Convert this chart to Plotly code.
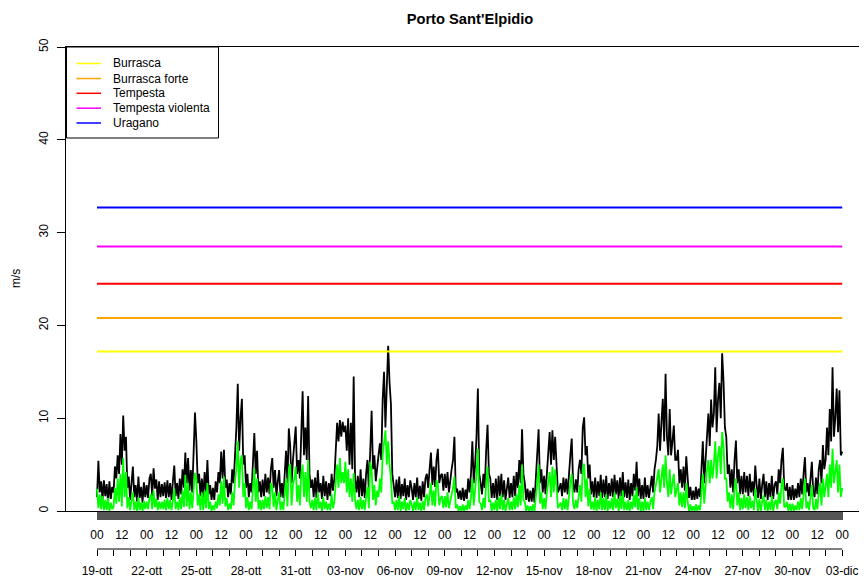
import plotly.graph_objects as go

# Wind gust (black) and mean wind (green), m/s, every 2 hours from 19-ott 00 to 03-dic 00
gust = [
    1.5, 5.4, 2.0, 3.2, 1.2, 3.3, 1.6, 2.9, 1.0, 3.2, 1.3, 2.6,
    2.0, 4.8, 3.5, 6.0, 4.0, 8.3, 5.0, 10.3, 6.5, 8.0, 2.5, 3.7,
    1.2, 3.0, 4.8, 1.5, 2.8, 1.0, 3.7, 1.4, 2.6, 0.9, 3.1, 1.5,
    2.8, 1.4, 3.5, 4.0, 1.6, 4.6, 2.4, 3.4, 1.2, 3.2, 1.5, 2.9,
    1.6, 3.1, 1.4, 3.3, 1.5, 3.0, 1.2, 3.2, 4.9, 1.6, 3.0, 1.3,
    3.5, 1.8, 4.5, 2.5, 6.3, 3.0, 5.7, 2.2, 4.4, 2.0, 6.0, 10.6,
    7.5, 3.0, 4.0, 1.6, 3.5, 1.5, 4.2, 2.0, 5.5, 1.8, 2.8, 1.2,
    2.5, 1.2, 3.2, 2.0, 4.2, 3.0, 6.4, 3.5, 6.6, 2.5, 3.4, 1.5,
    3.0, 1.8, 4.5, 3.0, 6.0, 9.0, 13.7, 6.5, 10.0, 12.1, 5.0, 6.0,
    2.5, 4.0, 1.5, 3.0, 2.0, 5.5, 8.4, 4.0, 6.5, 2.0, 3.2, 1.5,
    3.4, 1.6, 4.0, 2.0, 3.6, 1.8, 4.5, 5.7, 2.5, 4.4, 1.6, 3.2,
    4.4, 1.5, 3.0, 1.4, 4.5, 6.5, 3.0, 8.9, 7.0, 3.0, 5.5, 7.0,
    9.1, 4.0, 5.5, 3.5, 8.0, 12.9, 6.0, 9.0, 5.5, 12.4, 4.0, 2.5,
    3.4, 1.5, 3.6, 1.4, 4.4, 2.0, 3.0, 1.3, 3.8, 1.6, 3.2, 1.2,
    3.0, 1.6, 4.0, 2.2, 3.5, 6.0, 9.5, 7.5, 9.8, 8.0, 9.6, 8.5,
    9.2, 6.5, 10.0, 5.0, 9.5, 4.5, 14.5, 3.5, 2.0, 3.8, 1.5, 4.5,
    1.6, 3.5, 1.4, 4.0, 5.5, 2.2, 7.6, 10.8, 4.5, 6.0, 3.2, 5.0,
    6.0, 7.3, 5.5, 12.0, 15.0, 9.0, 14.8, 17.8, 13.8, 11.5, 4.0, 3.0,
    1.5, 3.4, 1.4, 3.7, 1.3, 2.9, 1.6, 3.5, 1.2, 2.8, 1.5, 3.3,
    2.5, 1.2, 3.0, 1.5, 3.6, 1.3, 2.7, 1.1, 3.2, 1.5, 3.5, 4.0,
    2.5, 4.5, 6.3, 2.8, 4.8, 2.6, 5.5, 6.7, 3.0, 3.8, 4.0, 2.2,
    4.0, 2.5, 4.2, 2.0, 3.5, 4.5, 5.5, 8.0, 2.0, 2.4, 1.3, 2.2,
    1.2, 2.5, 1.1, 2.3, 1.3, 3.5, 2.0, 4.0, 7.5, 3.0, 5.0, 8.0,
    13.2, 4.0, 3.0, 1.8, 4.0, 2.5, 6.5, 9.3, 4.0, 3.5, 1.4, 3.0,
    1.4, 3.5, 1.2, 3.8, 1.6, 4.0, 1.5, 3.3, 1.2, 2.8, 3.6, 1.4,
    3.0, 1.5, 3.8, 1.6, 4.2, 2.5, 5.5, 3.0, 8.8, 4.0, 3.0, 1.2,
    2.4, 1.0, 2.2, 1.0, 2.5, 0.9, 3.5, 6.0, 8.8, 3.0, 4.5, 2.0,
    3.8, 1.8, 4.5, 6.0, 8.5, 5.0, 8.7, 5.5, 8.0, 5.0, 2.0, 2.4,
    3.0, 1.6, 3.6, 2.0, 3.5, 1.8, 4.5, 6.0, 7.8, 3.0, 2.0, 3.4,
    2.0, 4.5, 5.5, 4.0, 9.0, 10.1, 6.0, 7.0, 3.5, 5.0, 1.8, 3.2,
    1.5, 3.6, 1.4, 3.2, 1.6, 3.9, 1.4, 3.4, 1.5, 3.8, 1.3, 3.0,
    1.6, 3.5, 1.5, 3.9, 1.8, 3.3, 1.3, 3.6, 1.6, 4.2, 1.5, 3.1,
    1.4, 3.4, 1.2, 3.0, 1.6, 4.0, 2.2, 5.3, 1.6, 3.5, 1.3, 2.8,
    1.3, 3.6, 1.5, 2.8, 1.4, 3.0, 3.8, 2.0, 4.5, 5.5, 7.0, 10.5,
    6.5, 9.5, 12.1, 7.5, 14.8, 8.0, 6.0, 11.0, 6.0, 7.5, 9.2, 5.5,
    5.5, 6.6, 3.0, 4.5, 2.5, 4.8, 2.2, 5.9, 3.0, 1.4, 2.6, 1.2,
    2.2, 1.2, 2.6, 1.3, 2.4, 1.5, 4.5, 7.5, 3.0, 6.0, 8.5, 10.5,
    7.0, 12.0, 9.0, 10.5, 15.5, 8.5, 12.0, 13.8, 10.0, 17.0, 14.0, 9.0,
    8.0, 4.0, 5.0, 2.5, 4.5, 2.0, 5.5, 7.6, 3.0, 4.5, 1.8, 3.8,
    1.8, 4.2, 2.0, 3.8, 1.6, 4.0, 2.0, 3.2, 1.6, 4.9, 2.8, 1.4,
    3.5, 1.3, 2.8, 4.0, 1.5, 3.2, 1.2, 3.0, 1.5, 3.8, 1.3, 2.8,
    3.2, 1.8, 4.5, 3.0, 5.5, 6.8, 2.5, 2.2, 3.0, 1.2, 2.6, 1.2,
    2.8, 1.2, 2.4, 1.4, 3.0, 1.5, 3.5, 1.8, 4.0, 5.8, 2.0, 3.0,
    1.6, 4.0, 5.3, 2.0, 1.5, 3.6, 1.8, 4.5, 5.5, 3.0, 7.1, 4.5,
    5.5, 9.0, 6.0, 11.0, 7.5, 15.5, 8.0, 10.0, 13.2, 8.5, 13.0, 6.0,
    6.4,
]

wind = [
    2.4, 0.3, 1.8, 0.2, 1.6, 0.1, 1.2, 0.1, 1.4, 0.0, 0.9, 0.2,
    0.4, 2.5, 0.8, 3.5, 1.0, 4.0, 0.5, 5.7, 1.5, 4.2, 0.3, 1.5,
    0.1, 1.2, 2.0, 0.1, 1.0, 0.0, 1.5, 0.1, 0.9, 0.0, 1.1, 0.2,
    1.0, 0.2, 1.4, 1.8, 0.2, 2.2, 0.4, 1.3, 0.1, 1.0, 0.2, 1.0,
    0.2, 1.2, 0.1, 1.4, 0.2, 1.2, 0.1, 1.1, 2.4, 0.2, 1.0, 0.1,
    1.5, 0.2, 2.2, 0.4, 3.9, 0.5, 3.0, 0.2, 2.0, 0.3, 2.8, 4.1,
    3.5, 0.6, 1.8, 0.1, 2.0, 0.1, 2.2, 0.3, 3.0, 0.2, 1.0, 0.0,
    0.6, 0.1, 1.0, 0.3, 1.8, 0.6, 3.2, 0.8, 3.7, 0.5, 1.4, 0.1,
    0.8, 0.2, 2.0, 0.6, 3.2, 4.5, 7.5, 2.5, 5.5, 6.0, 1.5, 3.0,
    0.3, 1.5, 0.1, 1.0, 0.2, 2.8, 4.6, 1.0, 3.5, 0.2, 1.2, 0.1,
    1.2, 0.2, 1.6, 0.3, 1.5, 0.2, 3.0, 2.6, 0.4, 2.0, 0.1, 1.2,
    2.0, 0.1, 1.0, 0.1, 2.0, 3.5, 0.5, 4.5, 5.1, 0.6, 2.8, 3.5,
    4.8, 1.0, 2.8, 0.6, 4.0, 5.0, 1.5, 4.2, 1.0, 5.5, 1.0, 0.3,
    1.2, 0.1, 1.4, 0.1, 2.0, 0.3, 1.0, 0.0, 1.5, 0.2, 1.0, 0.1,
    0.8, 0.1, 1.8, 0.3, 1.0, 3.0, 5.0, 2.5, 5.7, 3.0, 4.2, 3.0,
    5.3, 2.0, 4.5, 1.5, 3.5, 1.0, 4.1, 1.2, 0.2, 1.2, 0.1, 1.5,
    0.2, 1.2, 0.1, 1.5, 2.6, 0.3, 5.3, 4.5, 1.2, 2.8, 0.6, 2.2,
    1.5, 3.5, 2.0, 6.0, 7.5, 8.7, 5.0, 7.5, 5.0, 3.5, 0.8, 1.0,
    0.1, 1.2, 0.1, 1.6, 0.0, 1.0, 0.2, 1.4, 0.0, 0.9, 0.1, 1.2,
    0.7, 0.0, 1.0, 0.1, 1.5, 0.1, 0.9, 0.0, 1.1, 0.1, 1.4, 1.8,
    0.5, 2.0, 3.0, 0.6, 2.2, 0.5, 3.3, 2.8, 0.6, 1.4, 1.6, 0.3,
    1.6, 0.4, 2.0, 0.3, 1.0, 1.5, 2.5, 3.7, 0.3, 0.7, 0.0, 0.5,
    0.0, 0.7, 0.0, 0.6, 0.1, 1.2, 0.2, 1.5, 3.5, 0.6, 2.2, 4.0,
    6.7, 1.0, 0.8, 0.1, 1.4, 0.3, 3.0, 4.8, 1.0, 1.2, 0.0, 0.9,
    0.1, 1.2, 0.0, 1.5, 0.2, 1.8, 0.1, 1.2, 0.0, 0.9, 1.4, 0.1,
    1.0, 0.1, 1.5, 0.2, 1.8, 0.4, 2.8, 0.6, 5.0, 1.2, 1.0, 0.0,
    0.6, 0.0, 0.5, 0.0, 0.7, 0.0, 1.2, 3.0, 5.0, 0.8, 2.0, 0.2,
    1.4, 0.2, 2.0, 3.0, 4.2, 1.5, 4.8, 2.0, 4.5, 2.5, 0.3, 0.6,
    0.9, 0.1, 1.4, 0.2, 1.3, 0.1, 2.0, 3.0, 4.0, 0.8, 0.2, 1.2,
    0.3, 2.0, 2.8, 1.0, 4.5, 5.1, 1.5, 3.5, 0.5, 2.4, 0.2, 1.0,
    0.1, 1.5, 0.0, 1.2, 0.2, 2.0, 0.1, 1.4, 0.1, 1.8, 0.0, 1.1,
    0.2, 1.4, 0.1, 2.0, 0.3, 1.3, 0.0, 1.6, 0.2, 2.2, 0.1, 1.0,
    0.1, 1.2, 0.0, 1.0, 0.2, 1.8, 0.4, 2.6, 0.1, 1.4, 0.0, 1.0,
    0.0, 1.4, 0.1, 1.0, 0.1, 1.0, 1.5, 0.2, 2.0, 2.8, 3.5, 4.5,
    2.0, 4.0, 5.0, 2.5, 6.0, 3.0, 1.5, 4.5, 1.8, 3.0, 4.0, 1.5,
    2.5, 3.0, 0.6, 2.0, 0.4, 2.0, 0.3, 3.0, 1.0, 0.0, 0.7, 0.0,
    0.5, 0.0, 0.7, 0.0, 0.6, 0.1, 2.0, 4.0, 0.8, 3.0, 4.5, 5.5,
    3.0, 5.5, 3.5, 5.0, 7.5, 3.5, 6.0, 7.0, 4.0, 8.5, 7.0, 3.5,
    3.5, 1.0, 2.0, 0.3, 1.8, 0.2, 2.5, 3.5, 0.6, 2.0, 0.1, 1.4,
    0.2, 1.8, 0.3, 1.5, 0.1, 1.6, 0.3, 1.1, 0.1, 2.4, 0.8, 0.0,
    1.3, 0.0, 1.0, 1.7, 0.1, 1.2, 0.0, 1.0, 0.1, 1.6, 0.0, 0.9,
    1.2, 0.2, 2.0, 0.8, 2.8, 3.5, 0.4, 0.5, 1.0, 0.0, 0.8, 0.0,
    0.8, 0.0, 0.6, 0.1, 1.0, 0.1, 1.4, 0.2, 1.8, 3.5, 0.3, 1.0,
    0.1, 1.5, 2.8, 0.3, 0.1, 1.3, 0.2, 2.0, 3.0, 0.6, 3.5, 1.5,
    2.5, 4.0, 1.5, 5.0, 2.5, 6.7, 3.0, 4.0, 5.5, 2.0, 5.0, 1.5,
    2.5,
]

step_hours = 2
hours = [i * step_hours for i in range(len(gust))]
total_hours = 1080

threshold_names = ["Burrasca", "Burrasca forte", "Tempesta", "Tempesta violenta", "Uragano"]
threshold_values = [17.2, 20.8, 24.5, 28.5, 32.7]
threshold_colors = ["#FFFF00", "#FFA500", "#FF0000", "#FF00FF", "#0000FF"]

hour_labels = ["00", "12"] * 15 + ["00"]          # one label every 36 hours
date_labels = ["19-ott", "22-ott", "25-ott", "28-ott", "31-ott", "03-nov", "06-nov",
               "09-nov", "12-nov", "15-nov", "18-nov", "21-nov", "24-nov", "27-nov",
               "30-nov", "03-dic"]                 # one label every 3 days

y_ticks = [0, 10, 20, 30, 40, 50]

# ---- tick setup
hour_tickvals = list(range(0, total_hours + 1))
hour_ticktext = [""] * len(hour_tickvals)
for i, lab in enumerate(hour_labels):
    hour_ticktext[i * 36] = lab

day_tickvals = list(range(0, total_hours + 1, 24))
day_ticktext = [""] * len(day_tickvals)
for i, lab in enumerate(date_labels):
    day_ticktext[i * 3] = lab

# ---- geometry (page body has an 8px margin, so the figure is offset by 8px)
OFF = 8
FONT = "Liberation Sans, Arial, Helvetica, sans-serif"
W, H = 867 - OFF, 581 - OFF
ML, MR, MT, MB = 66 - OFF, 0, 47 - OFF, 5
plot_w = W - ML - MR
paper_h = H - MT - MB
x0_px, x1_px = 97.0 - OFF, 842.2 - OFF
scale = (x1_px - x0_px) / total_hours
xr = [-(x0_px - ML) / scale, total_hours + (W - MR - x1_px) / scale]


def px(xref_px):
    return (xref_px - OFF - ML) / plot_w


def py(yref_px):
    return (H - MB - (yref_px - OFF)) / paper_h


ydom0 = py(511)
low_axis_pos = py(549)

fig = go.Figure()
fig.add_trace(go.Scatter(x=hours, y=gust, mode="lines", line=dict(color="black", width=1.8),
                         showlegend=False, hoverinfo="skip"))
fig.add_trace(go.Scatter(x=hours, y=wind, mode="lines", line=dict(color="#00FF00", width=1.8),
                         showlegend=False, hoverinfo="skip"))
for name, val, col in zip(threshold_names, threshold_values, threshold_colors):
    fig.add_trace(go.Scatter(x=[0, total_hours], y=[val, val], mode="lines", name=name,
                             line=dict(color=col, width=2), showlegend=False))
# invisible trace to register the secondary (date) axis
fig.add_trace(go.Scatter(x=[0], y=[0], xaxis="x2", mode="markers", marker=dict(opacity=0),
                         showlegend=False, hoverinfo="skip"))

# lower date axis line (from first to last day tick)
fig.add_shape(type="line", xref="paper", yref="paper", x0=px(97), x1=px(842.2),
              y0=low_axis_pos, y1=low_axis_pos, line=dict(color="black", width=1))

# legend box (R-style, drawn manually for compact row spacing)
fig.add_shape(type="rect", xref="paper", yref="paper", x0=px(66.5), x1=px(218.5),
              y0=py(138), y1=py(47), line=dict(color="black", width=1), fillcolor="white",
              layer="above")
row_y = [63.5, 78.5, 93.3, 108.2, 123.0]
for name, col, ry in zip(threshold_names, threshold_colors, row_y):
    fig.add_shape(type="line", xref="paper", yref="paper", x0=px(76.5), x1=px(101),
                  y0=py(ry), y1=py(ry), line=dict(color=col, width=1.5), layer="above")
    fig.add_annotation(text=name, xref="paper", yref="paper", x=px(111), y=py(ry),
                       xanchor="left", yanchor="middle", showarrow=False,
                       font=dict(family=FONT, size=12, color="black"))

fig.add_annotation(text="m/s", xref="paper", yref="y", x=px(16), y=25,
                   textangle=-90, showarrow=False, font=dict(family=FONT, size=12, color="black"),
                   xanchor="center", yanchor="middle")

fig.update_layout(
    width=W, height=H,
    margin=dict(l=ML, r=MR, t=MT, b=MB),
    paper_bgcolor="white", plot_bgcolor="white",
    font=dict(family=FONT, size=12, color="black"),
    title=dict(text="<b>Porto Sant'Elpidio</b>", xref="container", yref="container",
               x=(470 - OFF) / W, y=1 - (19 - OFF) / H, xanchor="center", yanchor="middle",
               font=dict(family=FONT, size=14.7, color="black")),
    xaxis=dict(range=xr, tickmode="array", tickvals=hour_tickvals, ticktext=hour_ticktext,
               ticks="outside", ticklen=8, tickwidth=1, tickcolor="#555555", tickangle=0,
               ticklabelstandoff=5,
               showline=True, linecolor="black", linewidth=1, mirror=True,
               showgrid=False, zeroline=False, tickfont=dict(size=12)),
    xaxis2=dict(range=xr, overlaying="x", anchor="free", position=low_axis_pos, side="bottom",
                tickmode="array", tickvals=day_tickvals, ticktext=day_ticktext,
                ticks="outside", ticklen=6, tickwidth=1, tickcolor="black", tickangle=0,
                ticklabelstandoff=5,
                showline=False, showgrid=False, zeroline=False, tickfont=dict(size=12)),
    yaxis=dict(domain=[ydom0, 1], range=[0, 50], tickmode="array", tickvals=y_ticks,
               ticks="outside", ticklen=8, tickwidth=1, tickcolor="black", tickangle=-90,
               showline=True, linecolor="black", linewidth=1,
               showgrid=False, zeroline=False, tickfont=dict(size=12), ticklabelstandoff=4),
    showlegend=False,
)

fig.write_html("out.html")
